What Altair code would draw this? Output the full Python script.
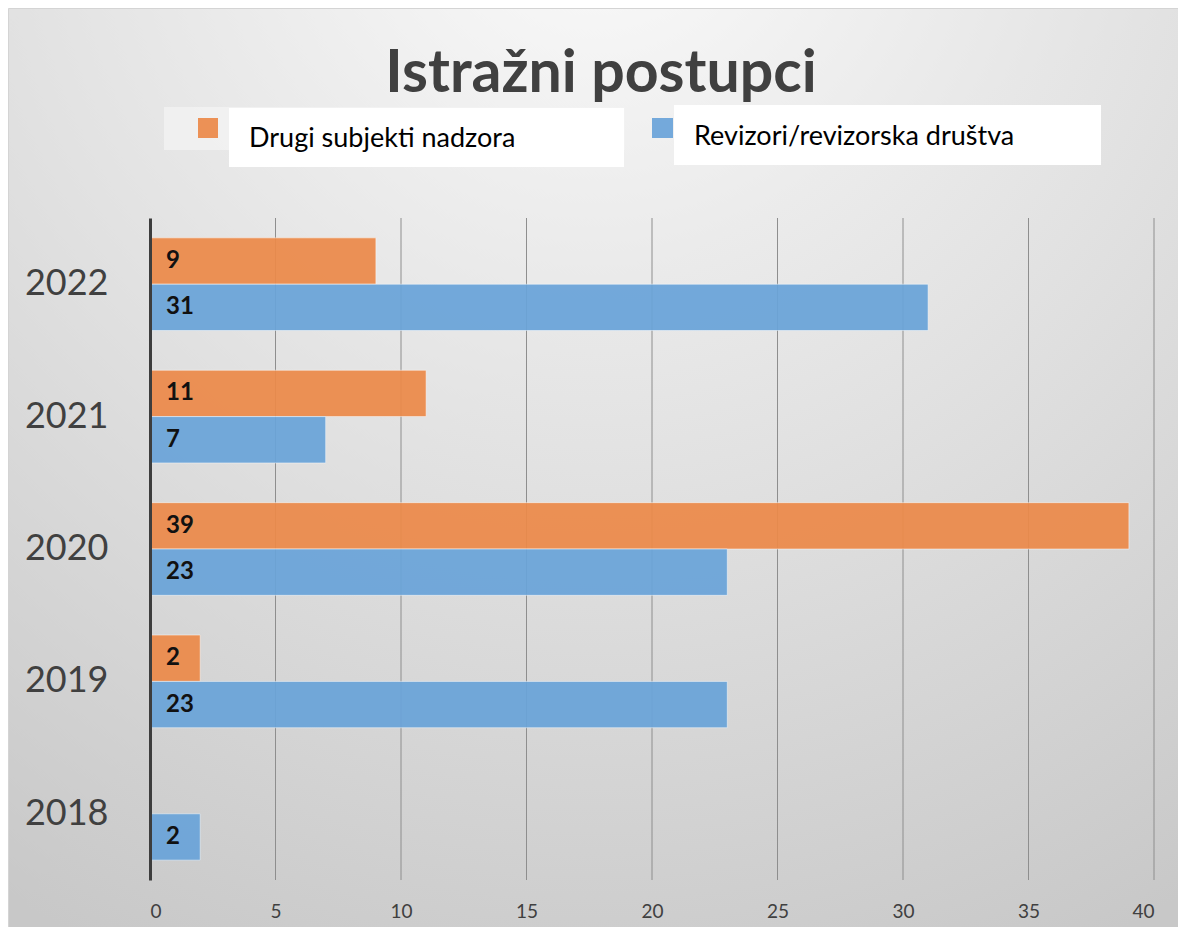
import altair as alt
import pandas as pd

# ---- data ----
years = ["2018", "2019", "2020", "2021", "2022"]
series = ["Drugi subjekti nadzora", "Revizori/revizorska društva"]
drugi = [None, 2, 39, 11, 9]
revizori = [2, 23, 23, 7, 31]
x_ticks = [0, 5, 10, 15, 20, 25, 30, 35, 40]
colors = ["#EC8A4A", "#6AA4D9"]
title_text = "Istražni postupci"

rows = []
for yr, a, b in zip(years, drugi, revizori):
    if a is not None:
        rows.append({"year": yr, "series": series[0], "value": a})
    if b is not None:
        rows.append({"year": yr, "series": series[1], "value": b})
df = pd.DataFrame(rows)

W, H = 1004, 662
PL, PT, PR, PB = 142, 210, 24, 47
FONT = "Lato"

one = pd.DataFrame({"k": [0]})

x_scale = alt.Scale(domain=[0, 40], nice=False, zero=True)
y_enc = alt.Y("year:N", sort=years[::-1], title=None,
              scale=alt.Scale(paddingInner=0.3, paddingOuter=0.15),
              axis=alt.Axis(labelFontSize=36, labelColor="#404040", labelFont=FONT,
                            labelPadding=42, ticks=False, domain=True,
                            domainColor="#3d3d3d", domainWidth=3, grid=False, zindex=1))
yoff_enc = alt.YOffset("series:N", sort=series,
                       scale=alt.Scale(paddingInner=0, paddingOuter=0))
color_enc = alt.Color("series:N", scale=alt.Scale(domain=series, range=colors), legend=None)

# background
bg = alt.Chart(one).mark_rect(
    fill={"gradient": "radial", "x1": 0.5, "y1": 0.0, "r1": 0.0,
          "x2": 0.5, "y2": 0.0, "r2": 1.0,
          "stops": [{"offset": 0, "color": "#fbfbfb"},
                    {"offset": 0.5, "color": "#e2e2e2"},
                    {"offset": 1, "color": "#c8c8c8"}]},
    stroke="#d4d4d4", strokeWidth=1,
).encode(x=alt.value(-PL + 0.5), x2=alt.value(W + PR + 2), y=alt.value(-PT + 0.5), y2=alt.value(H + PB + 2))

# grid lines through the x scale
grid = alt.Chart(pd.DataFrame({"t": x_ticks[1:]})).mark_rule(color="#8e8e8e", strokeWidth=1).encode(
    x=alt.X("t:Q", scale=x_scale, title=None,
            axis=alt.Axis(values=x_ticks, labelFontSize=19, labelColor="#404040", labelFont=FONT,
                          labelPadding=31, labelBaseline="middle", ticks=False, domain=False,
                          grid=False, zindex=1)),
    y=alt.value(0), y2=alt.value(H),
)

bars = alt.Chart(df).mark_bar(opacity=0.93, stroke="white", strokeOpacity=0.5, strokeWidth=1).encode(
    x=alt.X("value:Q", scale=x_scale),
    y=y_enc,
    yOffset=yoff_enc,
    color=color_enc,
)

labels = alt.Chart(df).mark_text(align="left", baseline="middle", dx=16, fontSize=24,
                                 fontWeight="bold", font=FONT, color="#111111").encode(
    x=alt.X("zero:Q", scale=x_scale),
    y=y_enc,
    yOffset=yoff_enc,
    text="value:Q",
).transform_calculate(zero="0")

title = alt.Chart(one).mark_text(text=title_text, fontSize=59, fontWeight="bold", font=FONT,
                                 color="#404040", align="center", baseline="alphabetic").encode(
    x=alt.value(451), y=alt.value(-126))

# custom legend
legend_layers = [
    alt.Chart(one).mark_rect(fill="#f2f2f2", opacity=0.8).encode(
        x=alt.value(14), x2=alt.value(475), y=alt.value(-111), y2=alt.value(-68)),
    alt.Chart(one).mark_rect(fill="white").encode(
        x=alt.value(79), x2=alt.value(474), y=alt.value(-110), y2=alt.value(-51)),
    alt.Chart(one).mark_rect(fill="white").encode(
        x=alt.value(524), x2=alt.value(951), y=alt.value(-113), y2=alt.value(-53)),
    alt.Chart(one).mark_rect(opacity=0.93).encode(
        x=alt.value(48), x2=alt.value(68), y=alt.value(-100), y2=alt.value(-80),
        color=alt.ColorValue(colors[0])),
    alt.Chart(one).mark_rect(opacity=0.93).encode(
        x=alt.value(502), x2=alt.value(523), y=alt.value(-100), y2=alt.value(-80),
        color=alt.ColorValue(colors[1])),
    alt.Chart(one).mark_text(text=series[0], fontSize=27, font=FONT, color="#000000",
                             align="left", baseline="alphabetic").encode(
        x=alt.value(99), y=alt.value(-71)),
    alt.Chart(one).mark_text(text=series[1], fontSize=27, font=FONT, color="#000000",
                             align="left", baseline="alphabetic").encode(
        x=alt.value(544), y=alt.value(-73)),
]

chart = alt.layer(bg, grid, bars, labels, title, *legend_layers).properties(
    width=W, height=H,
    padding={"left": PL, "top": PT, "right": PR, "bottom": PB},
    autosize=alt.AutoSizeParams(type="none"),
).configure_view(stroke=None).configure(background="white")

chart.save("out.html", embed_options={"renderer": "svg", "actions": False})
